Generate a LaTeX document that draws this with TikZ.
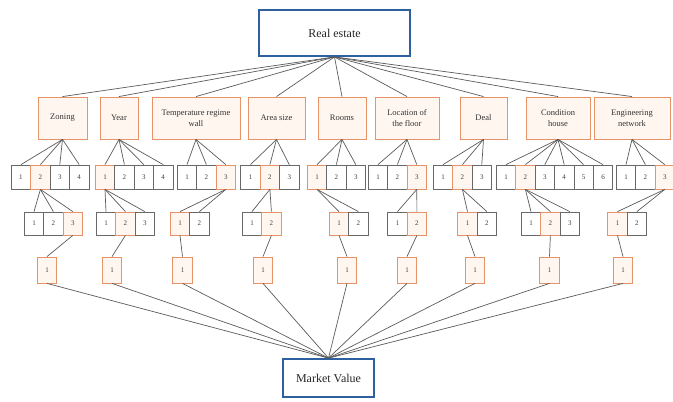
\documentclass[tikz,border=0pt]{standalone}
\usepackage{fontspec}
\setmainfont{Liberation Serif}
\newfontfamily\timesfont{Liberation Serif}
\usetikzlibrary{calc}

\definecolor{boxblue}{RGB}{46,96,160}
\definecolor{boxorange}{RGB}{232,146,104}
\definecolor{boxpeach}{RGB}{255,246,240}
\definecolor{boxgray}{RGB}{105,105,105}
\definecolor{linegray}{RGB}{90,90,90}

\tikzset{
  mainbox/.style={draw=boxblue,line width=1.8pt,fill=white,inner sep=0pt,text=black!85,font=\timesfont\fontsize{12}{14}\selectfont},
  factor/.style={draw=boxorange,line width=0.9pt,fill=boxpeach,inner sep=0pt,minimum height=42pt,align=center,text=black!80,font=\timesfont\fontsize{8.5}{11}\selectfont},
  leaf/.style={draw=boxgray,line width=0.8pt,fill=white,inner sep=0pt,minimum width=19.4pt,minimum height=24pt,text=black!75,font=\timesfont\fontsize{7}{8}\selectfont},
  pick/.style={leaf,draw=boxorange,fill=boxpeach},
  cell/.code 2 args={\ifnum#1=#2\relax\pgfkeysalso{pick}\else\pgfkeysalso{leaf}\fi},
  link/.style={draw=linegray,line width=0.7pt},
}

\begin{document}
\begin{tikzpicture}[x=1pt,y=-1pt]
\useasboundingbox (0,0) rectangle (673,402);

\node[mainbox,minimum width=151pt,minimum height=46pt] (re) at (334.5,33) {Real estate};
\node[mainbox,minimum width=91pt,minimum height=38pt] (mv) at (328.5,378) {Market Value};

% factors
\foreach \f/\x/\w/\t in {zon/62.5/49/Zoning, yea/119/38/Year, tem/196/88/{Temperature regime\\wall},
    are/276.5/57/Area size, roo/342/48/Rooms, loc/407/64/{Location of\\the floor},
    dea/483.5/47/Deal, con/558/64/{Condition\\house}, eng/632/76/{Engineering\\network}} {
  \node[factor,minimum width=\w pt] (\f) at (\x,118) {\t};
  \draw[link] (re.south) -- (\f.north);
}

% first level of grades
\foreach \f/\x/\n/\s in {zon/21/4/2, yea/105/4/1, tem/187/3/3, are/250.5/3/2, roo/317/3/1,
    loc/378/3/3, dea/443/3/2, con/506/6/2, eng/626/3/3} {
  \foreach \i in {1,...,\n} {
    \node[cell={\i}{\s}] (\f-a\i) at ({\x+19.4*(\i-1)},177) {\i};
    \draw[link] (\f.south) -- (\f-a\i.north);
  }
}

% second level of grades
\foreach \f/\p/\x/\n/\s in {zon/2/34/3/3, yea/1/106/3/2, tem/3/180/2/1, are/2/252/2/2, roo/1/339/2/1,
    loc/3/397.5/2/2, dea/2/467.5/2/1, con/2/531/3/2, eng/3/617.5/2/1} {
  \foreach \i in {1,...,\n} {
    \node[cell={\i}{\s},minimum height=23pt] (\f-b\i) at ({\x+19.4*(\i-1)},223.5) {\i};
    \draw[link] (\f-a\p.south) -- (\f-b\i.north);
  }
}

% last level, all into the market value
\foreach \f/\s/\x in {zon/3/47, yea/2/112, tem/1/182.5, are/2/263, roo/1/347,
    loc/2/407, dea/1/475, con/2/549.5, eng/1/623} {
  \node[pick,minimum height=26pt] (\f-c) at (\x,270) {1};
  \draw[link] (\f-b\s.south) -- (\f-c.north);
  \draw[link] (\f-c.south) -- (mv.north);
}

\end{tikzpicture}
\end{document}
